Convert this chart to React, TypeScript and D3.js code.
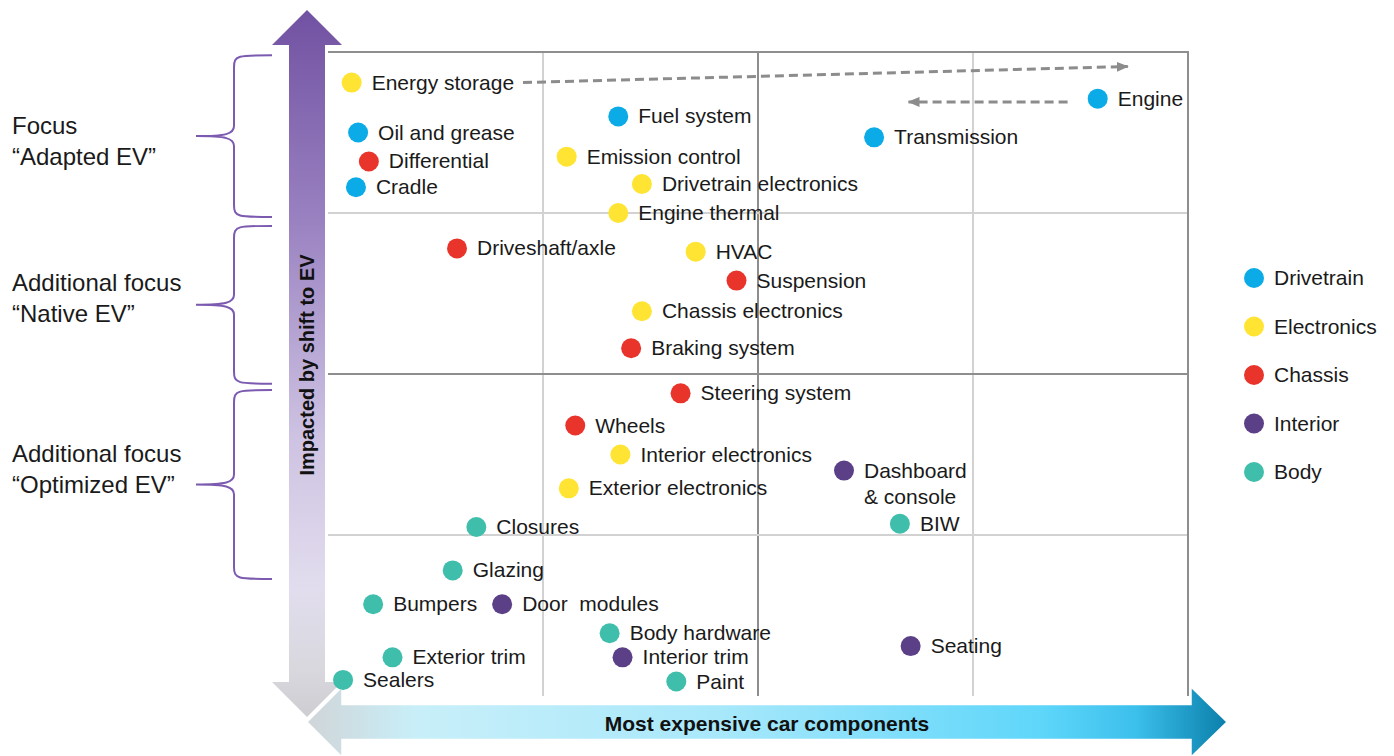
import React from 'react';
import * as d3 from 'd3';

const W = 1394;
const H = 756;

const groupNames = ['Drivetrain', 'Electronics', 'Chassis', 'Interior', 'Body'];
const groupColors = ['#0aabe7', '#ffe433', '#e8342b', '#5b3f87', '#3fbeab'];

type Pt = { name: string; x: number; y: number };

// x: cost (0-4), y: impact of shift to EV (0-4)
const drivetrain: Pt[] = [
  { name: 'Oil and grease', x: 0.14, y: 3.5 },
  { name: 'Cradle', x: 0.13, y: 3.16 },
  { name: 'Fuel system', x: 1.35, y: 3.6 },
  { name: 'Transmission', x: 2.54, y: 3.47 },
  { name: 'Engine', x: 3.58, y: 3.71 },
];
const electronics: Pt[] = [
  { name: 'Energy storage', x: 0.11, y: 3.81 },
  { name: 'Emission control', x: 1.11, y: 3.35 },
  { name: 'Drivetrain electronics', x: 1.46, y: 3.18 },
  { name: 'Engine thermal', x: 1.35, y: 3.0 },
  { name: 'HVAC', x: 1.71, y: 2.76 },
  { name: 'Chassis electronics', x: 1.46, y: 2.39 },
  { name: 'Interior electronics', x: 1.36, y: 1.5 },
  { name: 'Exterior electronics', x: 1.12, y: 1.29 },
];
const chassis: Pt[] = [
  { name: 'Differential', x: 0.19, y: 3.32 },
  { name: 'Driveshaft/axle', x: 0.6, y: 2.78 },
  { name: 'Suspension', x: 1.9, y: 2.58 },
  { name: 'Braking system', x: 1.41, y: 2.16 },
  { name: 'Steering system', x: 1.64, y: 1.88 },
  { name: 'Wheels', x: 1.15, y: 1.68 },
];
const interior: Pt[] = [
  { name: 'Dashboard\n& console', x: 2.4, y: 1.4 },
  { name: 'Door\u00a0 modules', x: 0.81, y: 0.57 },
  { name: 'Seating', x: 2.71, y: 0.31 },
  { name: 'Interior trim', x: 1.37, y: 0.24 },
];
const body: Pt[] = [
  { name: 'BIW', x: 2.66, y: 1.07 },
  { name: 'Closures', x: 0.69, y: 1.05 },
  { name: 'Glazing', x: 0.58, y: 0.78 },
  { name: 'Bumpers', x: 0.21, y: 0.57 },
  { name: 'Body hardware', x: 1.31, y: 0.39 },
  { name: 'Exterior trim', x: 0.3, y: 0.24 },
  { name: 'Sealers', x: 0.07, y: 0.1 },
  { name: 'Paint', x: 1.62, y: 0.09 },
];
const groups = [drivetrain, electronics, chassis, interior, body];

// focus bands on the left (y ranges in data units)
const focusLines = [
  ['Focus', '\u201cAdapted EV\u201d'],
  ['Additional focus', '\u201cNative EV\u201d'],
  ['Additional focus', '\u201cOptimized EV\u201d'],
];
const focusTop = [3.98, 2.92, 1.9];
const focusBottom = [2.975, 1.94, 0.727];
const focusLabelY = [3.45, 2.47, 1.41];

// dashed movement arrows [x1, y1, x2, y2]
const moves = [
  [0.907, 3.81, 3.72, 3.91],
  [3.44, 3.69, 2.7, 3.69],
];

const gridValues = [1, 2, 3];

const font = '"Liberation Sans", Arial, sans-serif';

export default function App() {
  const x = d3.scaleLinear().domain([0, 4]).range([328, 1188]);
  const y = d3.scaleLinear().domain([0, 4]).range([696, 52]);

  // vertical arrow geometry
  const vx = 307;
  const vPts: [number, number][] = [
    [vx, 10], [vx + 35, 45], [vx + 18, 45], [vx + 18, 682], [vx + 35, 682],
    [vx, 717], [vx - 35, 682], [vx - 18, 682], [vx - 18, 45], [vx - 35, 45],
  ];
  // horizontal arrow geometry
  const hy = 722;
  const hPts: [number, number][] = [
    [307, hy], [342, hy - 35], [342, hy - 17.5], [1191, hy - 17.5], [1191, hy - 35],
    [1227, hy], [1191, hy + 35], [1191, hy + 17.5], [342, hy + 17.5], [342, hy + 35],
  ];
  const poly = d3.line();

  const brace = (y0: number, y1: number) => {
    const R = 272, X = 234, T = 196;
    const m = (y0 + y1) / 2;
    return `M${R},${y0} C${X + 4},${y0} ${X},${y0} ${X},${y0 + 12} L${X},${m - 10} C${X},${m - 2} ${X - 8},${m} ${T},${m} C${X - 8},${m} ${X},${m + 2} ${X},${m + 10} L${X},${y1 - 12} C${X},${y1} ${X + 4},${y1} ${R},${y1}`;
  };

  return (
    <svg width={W} height={H} style={{ position: 'absolute', left: 0, top: 0, fontFamily: font }}>
      <defs>
        <linearGradient id="vgrad" x1="0" y1="0" x2="0" y2="1">
          <stop offset="0" stopColor="#7151a2" />
          <stop offset="0.3" stopColor="#9a82c1" />
          <stop offset="0.6" stopColor="#cdc2e2" />
          <stop offset="0.82" stopColor="#e2ddee" />
          <stop offset="0.93" stopColor="#d8d8de" />
          <stop offset="1" stopColor="#cdcdd2" />
        </linearGradient>
        <linearGradient id="hgrad" x1="0" y1="0" x2="1" y2="0">
          <stop offset="0" stopColor="#d0d5d8" />
          <stop offset="0.12" stopColor="#c8eff9" />
          <stop offset="0.45" stopColor="#a8e8fb" />
          <stop offset="0.8" stopColor="#5ed6fa" />
          <stop offset="0.9" stopColor="#3cc0ec" />
          <stop offset="1" stopColor="#0b7fab" />
        </linearGradient>
        <marker id="ah" viewBox="0 0 12 10" refX="11" refY="5" markerWidth="12" markerHeight="10"
          markerUnits="userSpaceOnUse" orient="auto">
          <path d="M0,0 L12,5 L0,10 z" fill="#8c8c8c" />
        </marker>
      </defs>

      {/* grid */}
      {gridValues.map(v => (
        <line key={'gx' + v} x1={x(v)} x2={x(v)} y1={y(4)} y2={y(0)}
          stroke={v === 2 ? '#8e8e8e' : '#d2d2d2'} strokeWidth={2} />
      ))}
      {gridValues.map(v => (
        <line key={'gy' + v} x1={x(0)} x2={x(4)} y1={y(v)} y2={y(v)}
          stroke={v === 2 ? '#8e8e8e' : '#d2d2d2'} strokeWidth={2} />
      ))}
      <path d={`M${x(0)},${y(4)} L${x(4)},${y(4)} L${x(4)},${y(0)}`} fill="none" stroke="#8e8e8e" strokeWidth={2} />

      {/* axis arrows */}
      <path d={poly(vPts) + 'Z'} fill="url(#vgrad)" />
      <path d={poly(hPts) + 'Z'} fill="url(#hgrad)" stroke="#fff" strokeWidth={1.5} />
      <text transform={`translate(${vx},365) rotate(-90)`} textAnchor="middle" dominantBaseline="central"
        fontSize={20} fontWeight="bold" fill="#111">Impacted by shift to EV</text>
      <text x={767} y={hy + 1} textAnchor="middle" dominantBaseline="central"
        fontSize={21} fontWeight="bold" fill="#111">Most expensive car components</text>

      {/* focus braces */}
      {focusLines.map((lines, i) => (
        <g key={'f' + i}>
          <path d={brace(y(focusTop[i]), y(focusBottom[i]))} fill="none" stroke="#7b5ab0" strokeWidth={2} />
          {lines.map((t, j) => (
            <text key={j} x={12} y={y(focusLabelY[i]) + (j - 0.5) * 31} dominantBaseline="central"
              fontSize={24} fill="#1a1a1a">{t}</text>
          ))}
        </g>
      ))}

      {/* movement arrows */}
      {moves.map((m, i) => (
        <line key={'m' + i} x1={x(m[0])} y1={y(m[1])} x2={x(m[2])} y2={y(m[3])}
          stroke="#8c8c8c" strokeWidth={3} strokeDasharray="9 5" markerEnd="url(#ah)" />
      ))}

      {/* points */}
      {groups.map((pts, gi) => pts.map(p => (
        <g key={p.name} transform={`translate(${x(p.x)},${y(p.y)})`}>
          <circle r={10} fill={groupColors[gi]} />
          <text x={20} fontSize={21} fill="#1a1a1a" style={{ whiteSpace: 'pre' }}>
            {p.name.split('\n').map((t, k) => (
              <tspan key={k} x={20} dy={k === 0 ? 7 : 26}>{t}</tspan>
            ))}
          </text>
        </g>
      )))}

      {/* legend */}
      {groupNames.map((g, i) => (
        <g key={g} transform={`translate(1254,${278 + i * 48.5})`}>
          <circle r={10} fill={groupColors[i]} />
          <text x={20} dy={7} fontSize={21} fill="#1a1a1a">{g}</text>
        </g>
      ))}
    </svg>
  );
}
